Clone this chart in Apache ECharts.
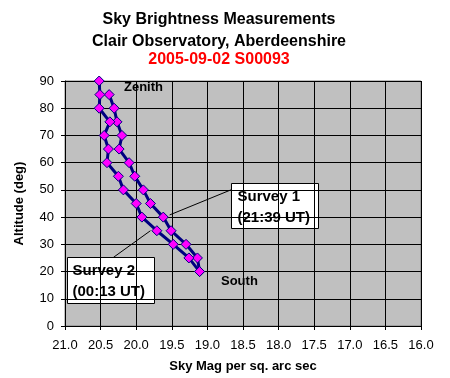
<!DOCTYPE html>
<html><head><meta charset="utf-8">
<script src="https://cdn.jsdelivr.net/npm/echarts@6/dist/echarts.min.js"></script>
<style>html,body{margin:0;padding:0;background:#fff}#c{width:450px;height:378px}</style>
</head><body><div id="c"></div>
<script>
var survey1Alt = [85,80,75,70,65,60,55,50,45,40,35,30,25,20];
var survey1Mag = [20.38,20.31,20.27,20.20,20.24,20.10,20.02,19.90,19.80,19.62,19.51,19.30,19.14,19.11];
var survey2Alt = [90,85,80,75,70,65,60,55,50,45,40,35,30,25,20];
var survey2Mag = [20.52,20.51,20.52,20.37,20.45,20.39,20.41,20.25,20.18,20.00,19.92,19.71,19.48,19.26,19.11];
var xTicks = ['21.0','20.5','20.0','19.5','19.0','18.5','18.0','17.5','17.0','16.5','16.0'];
var yTicks = [0,10,20,30,40,50,60,70,80,90];

var F = 'Liberation Sans, Arial, sans-serif';
function pts(m, a){ return m.map(function(v,i){ return [v, a[i]]; }); }
var chart = echarts.init(document.getElementById('c'));
var arrowStyle = {color:'#000', width:1, type:'solid'};
chart.setOption({
  animation:false,
  title:[
    {text:'Sky Brightness Measurements', left:219, top:12, padding:0, textAlign:'center', textStyle:{fontFamily:F,fontSize:16,fontWeight:'bold',color:'#000'}},
    {text:'Clair Observatory, Aberdeenshire', left:219, top:34, padding:0, textAlign:'center', textStyle:{fontFamily:F,fontSize:16,fontWeight:'bold',color:'#000'}},
    {text:'2005-09-02 S00093', left:219, top:52, padding:0, textAlign:'center', textStyle:{fontFamily:F,fontSize:16,fontWeight:'bold',color:'#FF0000'}}
  ],
  grid:{left:65,right:29,top:81,bottom:52,outerBoundsMode:'none',containLabel:false,show:true,backgroundColor:'#C0C0C0',borderColor:'#808080',borderWidth:1},
  xAxis:{type:'value',inverse:true,min:16,max:21,interval:0.5,
    name:'Sky Mag per sq. arc sec',nameLocation:'middle',nameGap:34,
    nameTextStyle:{fontFamily:F,fontSize:13,fontWeight:'bold',color:'#000'},
    axisLine:{show:true,lineStyle:{color:'#000'}},
    axisTick:{show:true,length:4,lineStyle:{color:'#000'}},
    axisLabel:{fontFamily:F,fontSize:13,color:'#000',margin:13,formatter:function(v){return v.toFixed(1);}},
    splitLine:{show:true,lineStyle:{color:'#000',width:1}}},
  yAxis:{type:'value',min:0,max:90,interval:10,
    name:'Altitude (deg)',nameLocation:'middle',nameGap:39,nameRotate:90,
    nameTextStyle:{fontFamily:F,fontSize:13,fontWeight:'bold',color:'#000'},
    axisLine:{show:true,lineStyle:{color:'#000'}},
    axisTick:{show:true,length:4,lineStyle:{color:'#000'}},
    axisLabel:{fontFamily:F,fontSize:13,color:'#000',margin:11},
    splitLine:{show:true,lineStyle:{color:'#000',width:1}}},
  series:[
    {name:'Survey 1',type:'line',data:pts(survey1Mag,survey1Alt),symbol:'diamond',symbolSize:10,
     lineStyle:{color:'#000080',width:3},itemStyle:{color:'#FF00FF',borderColor:'#000080',borderWidth:1},
     markLine:{silent:true,symbol:['none','arrow'],symbolSize:[0,9],lineStyle:arrowStyle,label:{show:false},
       data:[[{coord:[18.67,50.0]},{coord:[19.53,40.8]}]]}},
    {name:'Survey 2',type:'line',data:pts(survey2Mag,survey2Alt),symbol:'diamond',symbolSize:10,
     lineStyle:{color:'#000080',width:3},itemStyle:{color:'#FF00FF',borderColor:'#000080',borderWidth:1},
     markLine:{silent:true,symbol:['none','arrow'],symbolSize:[0,9],lineStyle:arrowStyle,label:{show:false},
       data:[[{coord:[20.32,25.2]},{coord:[19.80,35.0]}]]}}
  ],
  graphic:[
    {type:'text',left:124,top:81,style:{text:'Zenith',font:'bold 13px '+F,fill:'#000'}},
    {type:'text',left:221,top:275,style:{text:'South',font:'bold 13px '+F,fill:'#000'}},
    {type:'group',left:231,top:183,children:[
      {type:'rect',shape:{x:0,y:0,width:87,height:45},style:{fill:'#fff',stroke:'#000',lineWidth:1}},
      {type:'text',x:6,y:3,style:{text:'Survey 1\n(21:39 UT)',font:'bold 15px '+F,fill:'#000',lineHeight:21}}
    ]},
    {type:'group',left:67,top:257,children:[
      {type:'rect',shape:{x:0,y:0,width:87,height:46},style:{fill:'#fff',stroke:'#000',lineWidth:1}},
      {type:'text',x:5,y:3,style:{text:'Survey 2\n(00:13 UT)',font:'bold 15px '+F,fill:'#000',lineHeight:21}}
    ]}
  ]
});
</script></body></html>
